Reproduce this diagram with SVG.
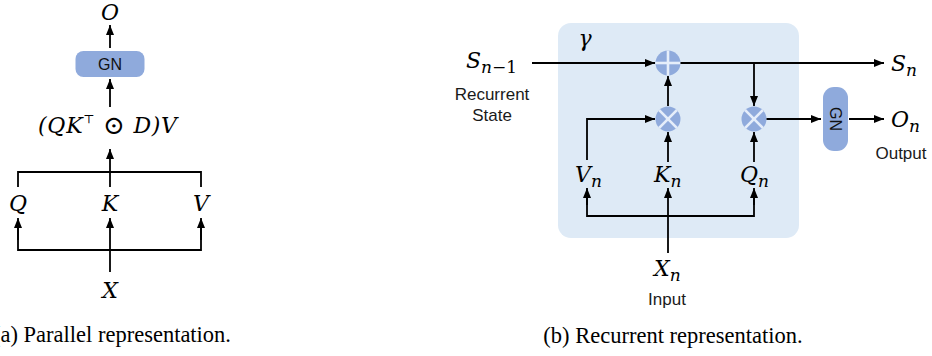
<svg xmlns="http://www.w3.org/2000/svg" width="932" height="356" viewBox="0 0 932 356">
  <defs>
    <marker id="arrow" viewBox="0 0 10 8" refX="10" refY="4" markerWidth="10" markerHeight="8" markerUnits="userSpaceOnUse" orient="auto">
      <path d="M0,0 L10,4 L0,8 Z" fill="#000"/>
    </marker>
  </defs>
  <style>
    .ln { fill: none; stroke: #000; stroke-width: 1.8; }
    .arr { fill: none; stroke: #000; stroke-width: 1.8; marker-end: url(#arrow); }
    .math { font-family: "DejaVu Serif", "Liberation Serif", serif; font-style: italic; font-size: 22px; fill: #000; }
    .sub { font-size: 17px; }
    .up { font-style: normal; }
    .lbl { font-family: "Liberation Sans", Arial, sans-serif; font-size: 17px; fill: #1a1a1a; text-anchor: middle; }
    .gn { fill: #8faadc; }
    .gntext { font-family: "Liberation Sans", Arial, sans-serif; font-size: 16px; fill: #111; text-anchor: middle; }
    .op { fill: #8faadc; }
    .opx { stroke: #e6eefa; stroke-width: 2.6; }
    .cap { font-family: "Liberation Serif", "Times New Roman", serif; font-size: 22.5px; fill: #000; }
  </style>

  <!-- (a) parallel form -->
  <g id="a-out">
    <text class="math" x="110" y="20" text-anchor="middle">O</text>
  </g>
  <g id="a-gn">
    <rect class="gn" x="75.5" y="51" width="69" height="26" rx="8"/>
    <text class="gntext" x="110" y="70">GN</text>
  </g>
  <g id="a-attn">
    <text class="math" x="38" y="133" textLength="139" lengthAdjust="spacing">(QK<tspan class="up" font-size="12" dy="-10">⊤</tspan><tspan dy="10"> </tspan><tspan class="up" font-size="26" dy="1">⊙</tspan><tspan dy="-1"> D)V</tspan></text>
  </g>
  <g id="a-q"><text class="math" x="18" y="211" text-anchor="middle">Q</text></g>
  <g id="a-k"><text class="math" x="110" y="211" text-anchor="middle">K</text></g>
  <g id="a-v"><text class="math" x="201" y="211" text-anchor="middle">V</text></g>
  <g id="a-x"><text class="math" x="110" y="298" text-anchor="middle">X</text></g>

  <g id="a-connectors">
    <line class="arr" x1="110" y1="48" x2="110" y2="25"/>
    <line class="arr" x1="110" y1="107" x2="110" y2="79"/>
    <line class="arr" x1="110" y1="187" x2="110" y2="149"/>
    <polyline class="ln" points="18,187 18,172 201,172 201,187"/>
    <polyline class="ln" points="18,221 18,250 201,250 201,221"/>
    <line class="arr" x1="18" y1="240" x2="18" y2="218"/>
    <line class="arr" x1="201" y1="240" x2="201" y2="218"/>
    <line class="arr" x1="110" y1="272" x2="110" y2="218"/>
  </g>

  <text class="cap" x="231" y="342" text-anchor="end">(a) Parallel representation.</text>

  <!-- (b) recurrent form -->
  <g id="b-cell">
    <rect x="558" y="23" width="241" height="215" rx="13" fill="#deeaf6"/>
    <text class="math" x="585" y="46" text-anchor="middle">γ</text>
  </g>

  <g id="b-state-in">
    <text class="math" x="466" y="68">S<tspan class="sub" dy="5">n</tspan><tspan class="sub up">−1</tspan></text>
    <text class="lbl" x="492" y="100">Recurrent</text>
    <text class="lbl" x="492" y="121">State</text>
  </g>

  <g id="b-add">
    <circle class="op" cx="668" cy="63" r="12.5"/>
    <line class="opx" x1="655.5" y1="63" x2="680.5" y2="63"/>
    <line class="opx" x1="668" y1="50.5" x2="668" y2="75.5"/>
  </g>
  <g id="b-mul-kv">
    <circle class="op" cx="668" cy="119" r="12.5"/>
    <line class="opx" x1="659.2" y1="110.2" x2="676.8" y2="127.8"/>
    <line class="opx" x1="676.8" y1="110.2" x2="659.2" y2="127.8"/>
  </g>
  <g id="b-mul-q">
    <circle class="op" cx="754" cy="119" r="12.5"/>
    <line class="opx" x1="745.2" y1="110.2" x2="762.8" y2="127.8"/>
    <line class="opx" x1="762.8" y1="110.2" x2="745.2" y2="127.8"/>
  </g>

  <g id="b-v"><text class="math" x="575" y="182">V<tspan class="sub" dy="5">n</tspan></text></g>
  <g id="b-k"><text class="math" x="654" y="182">K<tspan class="sub" dy="5">n</tspan></text></g>
  <g id="b-q"><text class="math" x="740" y="182">Q<tspan class="sub" dy="5">n</tspan></text></g>

  <g id="b-x">
    <text class="math" x="654" y="276">X<tspan class="sub" dy="5">n</tspan></text>
    <text class="lbl" x="667" y="305">Input</text>
  </g>

  <g id="b-gn">
    <rect class="gn" x="823" y="87" width="25" height="64" rx="11"/>
    <text class="gntext" x="0" y="0" transform="translate(830 119) rotate(90)">GN</text>
  </g>

  <g id="b-state-out">
    <text class="math" x="891" y="71">S<tspan class="sub" dy="5">n</tspan></text>
  </g>
  <g id="b-out">
    <text class="math" x="891" y="127">O<tspan class="sub" dy="5">n</tspan></text>
    <text class="lbl" x="901" y="159">Output</text>
  </g>

  <g id="b-connectors">
    <line class="arr" x1="532" y1="63" x2="655" y2="63"/>
    <line class="ln" x1="680.5" y1="63" x2="754" y2="63"/>
    <line class="arr" x1="754" y1="63" x2="884" y2="63"/>
    <line class="arr" x1="754" y1="63" x2="754" y2="106"/>
    <line class="arr" x1="668" y1="106" x2="668" y2="76"/>
    <polyline class="arr" points="587,160 587,119 655,119"/>
    <line class="arr" x1="668" y1="162" x2="668" y2="132"/>
    <line class="arr" x1="754" y1="162" x2="754" y2="132"/>
    <line class="arr" x1="766.5" y1="119" x2="821" y2="119"/>
    <line class="arr" x1="849" y1="119" x2="884" y2="119"/>
    <polyline class="ln" points="587,195 587,216 754,216 754,195"/>
    <line class="arr" x1="587" y1="205" x2="587" y2="188"/>
    <line class="arr" x1="754" y1="205" x2="754" y2="188"/>
    <line class="arr" x1="668" y1="253" x2="668" y2="188"/>
  </g>

  <text class="cap" x="673" y="343" text-anchor="middle">(b) Recurrent representation.</text>
</svg>
